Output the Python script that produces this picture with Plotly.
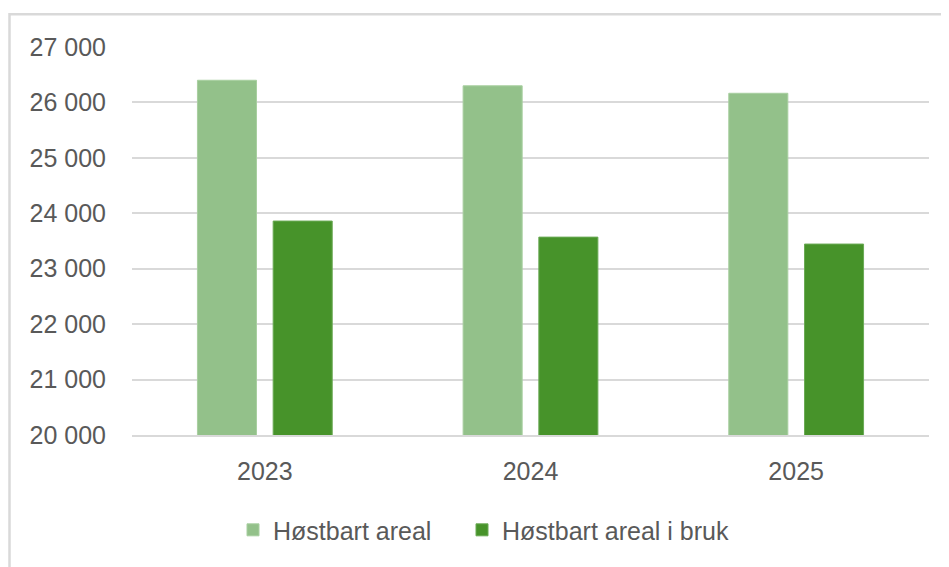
import plotly.graph_objects as go

years = ["2023", "2024", "2025"]
hostbart_areal = [26400, 26300, 26165]
hostbart_areal_i_bruk = [23860, 23570, 23445]
y_ticks = [20000, 21000, 22000, 23000, 24000, 25000, 26000, 27000]
y_tick_labels = ["20 000", "21 000", "22 000", "23 000", "24 000", "25 000", "26 000", "27 000"]

FONT = "Liberation Sans"
GREY = "#595959"
FS = 25

# page is offset by the default 8px body margin
OFF = 8
W, H = 949 - OFF, 567 - OFF
L, R, T, B = 132 - OFF, 949 - 929, 47.3 - OFF, 567 - 435
pw, ph = W - L - R, H - T - B


def px_x(p):
    return (p - OFF - L) / pw


def px_y(p):
    return (H - B - (p - OFF)) / ph


fig = go.Figure()
fig.add_trace(go.Bar(name="Høstbart areal", x=years, y=hostbart_areal, legend="legend",
                     marker=dict(color="#93C18A", line=dict(color="#A8CFA0", width=1))))
fig.add_trace(go.Bar(name="Høstbart areal i bruk", x=years, y=hostbart_areal_i_bruk, legend="legend2",
                     marker=dict(color="#47932A", line=dict(color="#6BAA55", width=1))))

leg_common = dict(orientation="h", xanchor="left", yanchor="middle", y=px_y(530),
                  font=dict(family=FONT, size=FS, color=GREY), bgcolor="rgba(0,0,0,0)")

fig.update_layout(
    width=W, height=H,
    margin=dict(l=L, r=R, t=T, b=B, pad=0),
    paper_bgcolor="white", plot_bgcolor="white",
    barmode="group", bargap=0.43, bargroupgap=0.22,
    font=dict(family=FONT, size=FS, color=GREY),
    showlegend=True,
    legend=dict(x=px_x(248 - 15), **leg_common),
    legend2=dict(x=px_x(477 - 15), **leg_common),
    xaxis=dict(showgrid=False, showline=True, linecolor="#D9D9D9", linewidth=2,
               ticks="outside", ticklen=13, tickcolor="rgba(0,0,0,0)",
               tickfont=dict(family=FONT, size=FS, color=GREY)),
    yaxis=dict(range=[20000, 27000], tickvals=y_ticks, ticktext=y_tick_labels,
               showgrid=True, gridcolor="#D9D9D9", gridwidth=2, zeroline=False,
               showline=False, ticks="outside", ticklen=20, tickcolor="rgba(0,0,0,0)",
               tickfont=dict(family=FONT, size=FS, color=GREY)),
    shapes=[dict(type="rect", xref="paper", yref="paper",
                 x0=px_x(9.5), x1=px_x(975), y0=px_y(600), y1=px_y(14.5),
                 line=dict(color="#D9D9D9", width=2.5), fillcolor="rgba(0,0,0,0)", layer="below")],
)

fig.write_html("out.html")
